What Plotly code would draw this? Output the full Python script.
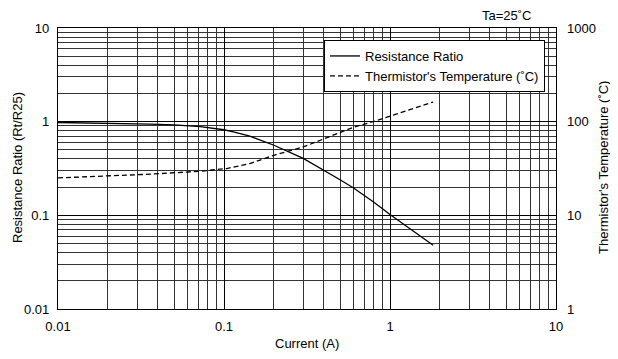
import plotly.graph_objects as go

# Resistance ratio Rt/R25 vs current
current_r = [0.01, 0.02, 0.036, 0.05, 0.072, 0.1, 0.114, 0.143, 0.2, 0.3, 0.4, 0.5, 0.6, 0.8, 1.0, 1.4, 1.82]
ratio = [0.98, 0.965, 0.94, 0.925, 0.885, 0.82, 0.78, 0.70, 0.56, 0.405, 0.305, 0.24, 0.197, 0.138, 0.102, 0.067, 0.048]

# Thermistor temperature (deg C) vs current
current_t = [0.01, 0.036, 0.072, 0.104, 0.143, 0.165, 0.2, 0.3, 0.4, 0.5, 0.6, 0.8, 1.0, 1.4, 1.82]
temperature = [25.1, 27.5, 29.6, 31.6, 35.7, 38.7, 43.8, 53.7, 66, 77.5, 87, 100.7, 115, 138, 162]

minor_vals = [m * 10 ** e for e in range(-2, 4) for m in range(2, 10)]
font = dict(family="Liberation Sans, Arial, sans-serif", size=13, color="#000")

# the page body has an 8px margin; keep the figure inside the window
OFF = 8
FIG_W, FIG_H = 618 - 2 * OFF, 359 - 2 * OFF
# plot area in window pixels
L, R, T, B = 58, 556, 28, 309
W, H = R - L, B - T


def px(x, y):
    return dict(x=(x - L) / W, y=(B - y) / H, xref="paper", yref="paper")


fig = go.Figure()
fig.add_trace(go.Scatter(
    x=current_r, y=ratio, mode="lines", name="Resistance Ratio",
    line=dict(color="#000", width=1.3),
))
fig.add_trace(go.Scatter(
    x=current_t, y=temperature, mode="lines", name="Thermistor's Temperature (˚C)",
    line=dict(color="#000", width=1.3, dash="5px,3px"), yaxis="y2",
))

axis_common = dict(
    type="log", showline=True, linecolor="#000", linewidth=1.2,
    gridcolor="#000", gridwidth=1.2, ticks="", zeroline=False, automargin=False,
    minor=dict(tickvals=minor_vals, showgrid=True, gridcolor="#333", gridwidth=1, ticks=""),
)

fig.update_layout(
    width=FIG_W, height=FIG_H,
    margin=dict(l=L - OFF, r=FIG_W + OFF - R, t=T - OFF, b=FIG_H + OFF - B),
    paper_bgcolor="white", plot_bgcolor="white",
    font=font,
    showlegend=True,
    xaxis=dict(
        axis_common, range=[-2, 1], mirror=True,
        tickvals=[0.01, 0.1, 1, 10], ticktext=["0.01", "0.1", "1", "10"],
        ticklabelstandoff=5,
    ),
    yaxis=dict(
        axis_common, range=[-2, 1], mirror=True,
        tickvals=[0.01, 0.1, 1, 10], ticktext=["0.01", "0.1", "1", "10"],
        ticklabelstandoff=5,
    ),
    yaxis2=dict(
        type="log", range=[0, 3], overlaying="y", side="right", automargin=False,
        showgrid=False, zeroline=False, ticks="", showline=False,
        tickvals=[1, 10, 100, 1000], ticktext=["1", "10", "100", "1000"],
        ticklabelstandoff=10,
    ),
    legend=dict(
        x=(324 - L) / W, y=(B - 40) / H, xanchor="left", yanchor="top",
        bgcolor="white", bordercolor="#000", borderwidth=1,
        font=font, tracegroupgap=0, itemwidth=30,
    ),
    annotations=[
        dict(text="Ta=25˚C", showarrow=False, font=font, xanchor="center", yanchor="middle", **px(507, 15)),
        dict(text="Current (A)", showarrow=False, font=font, xanchor="center", yanchor="middle", **px(307, 343)),
        dict(text="Resistance Ratio (Rt/R25)", showarrow=False, font=font, textangle=-90,
             xanchor="center", yanchor="middle", **px(17, 168)),
        dict(text="Thermistor's Temperature (˚C)", showarrow=False, font=font, textangle=-90,
             xanchor="center", yanchor="middle", **px(603, 168)),
    ],
)

fig.write_html("out.html")
